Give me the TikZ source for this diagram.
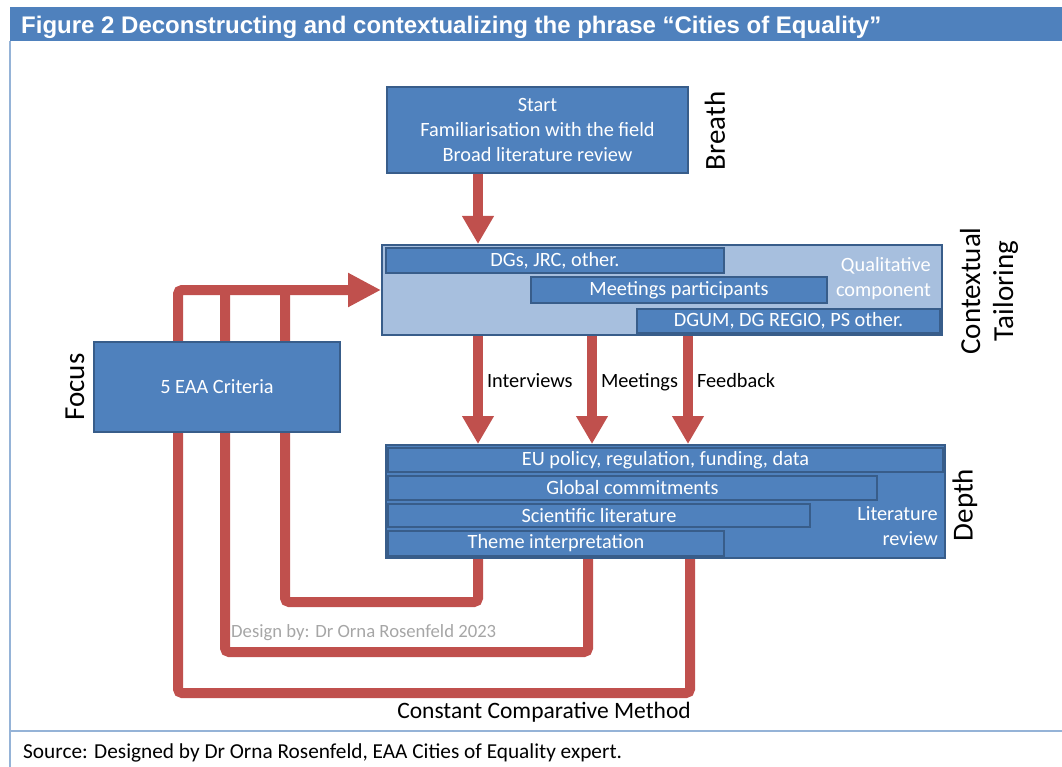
\documentclass[tikz,border=0pt]{standalone}
\usepackage{fontspec}
\setmainfont{Carlito}
\newfontfamily\headfont{Liberation Sans}
\usepackage{xcolor}
\usetikzlibrary{arrows.meta}
\usetikzlibrary{backgrounds}
\definecolor{boxblue}{HTML}{4F81BD}
\definecolor{boxedge}{HTML}{385D8A}
\definecolor{paleblue}{HTML}{A7BFDE}
\definecolor{loopred}{HTML}{C0504D}
\definecolor{framerule}{HTML}{95B3D7}
\definecolor{signgray}{HTML}{A6A6A6}
\newcommand{\bodyfont}{\fontsize{20.3}{25}\selectfont}
\tikzstyle{bluebox}=[draw=boxedge, line width=2pt, fill=boxblue, text=white, inner sep=0pt, align=center, font=\bodyfont]
\tikzstyle{palebox}=[bluebox, fill=paleblue]
\tikzstyle{sidelbl}=[rotate=90, inner sep=0pt, align=center, font=\fontsize{29}{33}\selectfont]
\tikzstyle{flowlbl}=[anchor=base west, inner sep=0pt, xshift=4pt, font=\bodyfont]
\tikzstyle{redline}=[draw=loopred, line width=10pt, rounded corners=4pt]
\tikzstyle{redarrow}=[redline, -{Triangle[width=30pt,length=28pt]}]
% one stacked bar: name, centre, width, height, text
\newcommand{\layerbar}[5]{
	\node[bluebox, minimum width=#3, minimum height=#4] (#1) at #2 {#5};
}

\begin{document}
\begin{tikzpicture}[x=1pt, y=-1pt]
	\useasboundingbox (0,0) rectangle (1062,767);
%
	\fill[boxblue] (10,7) rectangle (1062,41);
	\node[anchor=west, inner sep=0pt, text=white, font=\headfont\bfseries\fontsize{24}{28}\selectfont] (title) at (21,27) {Figure 2 Deconstructing and contextualizing the phrase “Cities of Equality”};
	\draw[framerule, line width=2.5pt] (10,41) -- (10,767);
	\draw[framerule, line width=2.5pt] (10,731) -- (1062,731);
	\node[anchor=west, inner sep=0pt, font=\fontsize{21.3}{25}\selectfont] (source) at (23,753) {Source: Designed by Dr Orna Rosenfeld, EAA Cities of Equality expert.};
%
	\node[bluebox, minimum width=301pt, minimum height=86pt] (start) at (537.5,130) {\raisebox{-2pt}{\parbox{280pt}{\centering Start\\Familiarisation with the field\\Broad literature review}}};
	\node[sidelbl] (breath) at (715,131) {Breath};
%
	\node[palebox, minimum width=560pt, minimum height=90pt] (ctx) at (662,290) {};
	\layerbar{dgs}{(555,260.5)}{338pt}{25pt}{DGs, JRC, other.}
	\layerbar{meet}{(679,290)}{296pt}{26pt}{Meetings participants}
	\layerbar{dgum}{(788.5,321)}{303pt}{24pt}{DGUM, DG REGIO, PS other.}
	\node[anchor=east, inner sep=0pt, align=right, text=white, font=\bodyfont] (qual) at (931,279) {Qualitative\\component};
	\node[sidelbl] (tailor) at (989,291) {Contextual\\Tailoring};
%
	\node[bluebox, minimum width=559pt, minimum height=113pt] (depth) at (665.5,501.5) {};
	\layerbar{eu}{(665.5,460)}{555pt}{24pt}{EU policy, regulation, funding, data}
	\layerbar{glob}{(632.5,488)}{489pt}{24pt}{Global commitments}
	\layerbar{sci}{(599,515.5)}{422pt}{23pt}{Scientific literature}
	\layerbar{theme}{(556,543.5)}{336pt}{25pt}{Theme interpretation}
	\node[anchor=east, inner sep=0pt, align=right, text=white, font=\bodyfont] (litrev) at (938,526) {Literature\\review};
	\node[sidelbl] (depthlbl) at (965,505) {Depth};
%
	\node[bluebox, minimum width=246pt, minimum height=90pt] (crit) at (217,387) {5 EAA Criteria};
	\node[sidelbl] (focus) at (75,387) {Focus};
%
	\draw[redarrow] (478,0 |- start.south) -- (478,0 |- ctx.north);
	\draw[redarrow] (478,0 |- ctx.south) -- node[flowlbl, pos=.48] (intv) {Interviews} (478,0 |- depth.north);
	\draw[redarrow] (592,0 |- ctx.south) -- node[flowlbl, pos=.48] (meetlbl) {Meetings} (592,0 |- depth.north);
	\draw[redarrow] (688,0 |- ctx.south) -- node[flowlbl, pos=.48] (feed) {Feedback} (688,0 |- depth.north);
%
	\begin{scope}[on background layer]
		\draw[redline, -{Triangle[width=32pt,length=33pt]}] (690,0 |- depth.south) -- (690,693) -- (178,693) -- (178,290) -- (ctx.west);
		\draw[redline] (588,0 |- depth.south) -- (588,652) -- (225,652) -- (225,290);
		\draw[redline] (478,0 |- depth.south) -- (478,602) -- (285,602) -- (285,290);
	\end{scope}
%
	\node[anchor=west, inner sep=0pt, text=signgray, font=\fontsize{18.7}{22}\selectfont] (design) at (231,633) {Design by: Dr Orna Rosenfeld 2023};
	\node[inner sep=0pt, font=\fontsize{23.5}{28}\selectfont] (ccm) at (544,712) {Constant Comparative Method};
\end{tikzpicture}
\end{document}
